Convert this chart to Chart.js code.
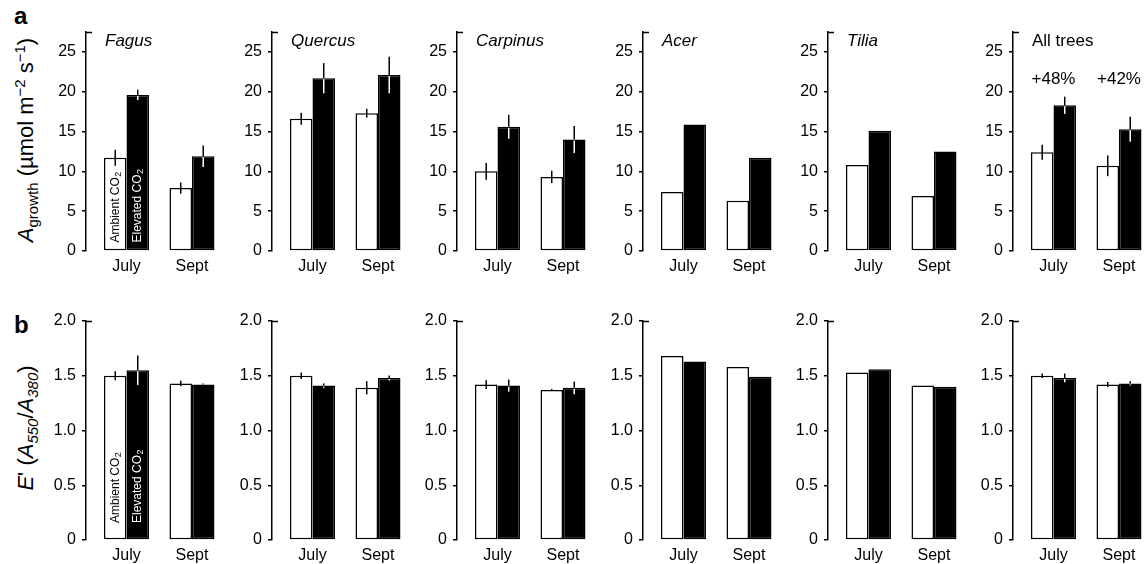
<!doctype html>
<html>
<head>
<meta charset="utf-8">
<title>Agrowth and E' by tree species</title>
<script src="https://cdn.jsdelivr.net/npm/chart.js@4.4.0/dist/chart.umd.min.js"></script>
<style>
body { margin: 0; background: #fff; overflow: hidden; font-family: "Liberation Sans", Arial, sans-serif; }
#wrap { position: relative; width: 1148px; height: 564px; }
canvas { position: absolute; }
.ytitle { position: absolute; white-space: nowrap; font-size: 22px; line-height: 1; transform: translate(-50%, -50%) rotate(-90deg); }
.ytitle sub, .ytitle sup { font-size: 15px; line-height: 0; }
.letter { position: absolute; font-weight: bold; font-size: 24px; line-height: 1; }
</style>
</head>
<body>
<div id="wrap">
  <div class="letter" style="left:14px; top:4px;">a</div>
  <div class="letter" style="left:14px; top:313px;">b</div>
  <div class="ytitle" style="left:26px; top:140px;"><i>A</i><sub>growth</sub> (µmol m<sup>−2</sup> s<sup>−1</sup>)</div>
  <div class="ytitle" style="left:26px; top:428px;"><i>E</i>' (<i>A</i><sub><i>550</i></sub>/<i>A</i><sub><i>380</i></sub>)</div>
</div>
<script>
var months = ['July', 'Sept'];
var species = ['Fagus', 'Quercus', 'Carpinus', 'Acer', 'Tilia', 'All trees'];
var increase = ['+48%', '+42%']; // all trees, elevated vs ambient

// A growth, one pair [July, Sept] per species
var growthAmbient  = [[11.7, 7.9], [16.6, 17.3], [10.0, 9.3], [7.4, 6.3], [10.8, 6.9], [12.4, 10.7]];
var growthElevated = [[19.6, 11.9], [21.7, 22.1], [15.6, 14.0], [15.9, 11.7], [15.1, 12.5], [18.3, 15.3]];
var growthAmbientErr  = [[1.0, 0.7], [0.75, 0.55], [1.05, 0.78], [0, 0], [0, 0], [0.95, 1.3]];
var growthElevatedErr = [[0.65, 1.35], [1.9, 2.3], [1.5, 1.7], [0, 0], [0, 0], [1.08, 1.57]];

// E' (A550/A380)
var eAmbient  = [[1.50, 1.43], [1.50, 1.39], [1.42, 1.37], [1.68, 1.58], [1.53, 1.41], [1.50, 1.42]];
var eElevated = [[1.55, 1.42], [1.41, 1.48], [1.41, 1.39], [1.63, 1.49], [1.56, 1.40], [1.48, 1.43]];
var eAmbientErr  = [[0.04, 0.025], [0.03, 0.06], [0.04, 0.01], [0, 0], [0, 0], [0.02, 0.023]];
var eElevatedErr = [[0.135, 0.01], [0.02, 0.023], [0.055, 0.058], [0, 0], [0, 0], [0.04, 0.02]];

var growthTicks = { max: 27.5, step: 5 };
var eTicks = { max: 2.0, step: 0.5 };

var axisX = [86, 271.7, 456.7, 642.7, 828.3, 1013.3];
var rowTop = [32.3, 320.5];
var AXIS_W = 44, PAD_TOP = 20, XAXIS_H = 25, AREA_H = 219.2, AREA_W = 131;

Chart.defaults.font.family = '"Liberation Sans", Arial, sans-serif';
Chart.defaults.color = '#000';

var errorBars = {
  id: 'errorBars',
  afterDatasetsDraw: function(chart) {
    var ctx = chart.ctx, ys = chart.scales.y;
    ctx.save();
    ctx.lineWidth = 1.5;
    chart.data.datasets.forEach(function(ds, di) {
      chart.getDatasetMeta(di).data.forEach(function(bar, i) {
        var e = ds.errors[i];
        if (!e) return;
        var v = ds.data[i].y;
        var top = ys.getPixelForValue(v + e), bot = ys.getPixelForValue(v - e);
        var x = bar.x;
        ctx.strokeStyle = '#000';
        ctx.beginPath(); ctx.moveTo(x, top); ctx.lineTo(x, di === 1 ? bar.y : bot); ctx.stroke();
        if (di === 1) {
          ctx.strokeStyle = '#fff';
          ctx.beginPath(); ctx.moveTo(x, bar.y + 1); ctx.lineTo(x, bot); ctx.stroke();
        }
      });
    });
    ctx.restore();
  }
};

var panelText = {
  id: 'panelText',
  afterDraw: function(chart) {
    var o = chart.options.plugins.panelText, a = chart.chartArea, ctx = chart.ctx;
    ctx.save();
    // small cap at the top of the y axis
    ctx.strokeStyle = '#000'; ctx.lineWidth = 1.5;
    ctx.beginPath(); ctx.moveTo(a.left, a.top + 0.5); ctx.lineTo(a.left + 6, a.top + 0.5); ctx.stroke();
    ctx.fillStyle = '#000';
    ctx.textBaseline = 'middle';
    if (o.title) {
      ctx.textAlign = 'left';
      ctx.font = (o.title === 'All trees' ? '' : 'italic ') + '17px "Liberation Sans", Arial, sans-serif';
      ctx.fillText(o.title, a.left + 19, a.top + 9);
    }
    if (o.increase) {
      ctx.textAlign = 'center';
      ctx.font = '17px "Liberation Sans", Arial, sans-serif';
      o.increase.forEach(function(t, i) {
        ctx.fillText(t, chart.scales.x.getPixelForValue(i), a.top + 47);
      });
    }
    if (o.barLabels) {
      var labels = ['Ambient CO', 'Elevated CO'];
      [0, 1].forEach(function(di) {
        var bar = chart.getDatasetMeta(di).data[0];
        ctx.save();
        ctx.translate(bar.x, a.bottom - o.barLabels);
        ctx.rotate(-Math.PI / 2);
        ctx.fillStyle = di === 0 ? '#000' : '#fff';
        ctx.textAlign = 'left';
        ctx.font = '12px "Liberation Sans", Arial, sans-serif';
        ctx.fillText(labels[di], 0, 0);
        var w = ctx.measureText(labels[di]).width;
        ctx.font = '9px "Liberation Sans", Arial, sans-serif';
        ctx.fillText('2', w + 0.5, 3);
        ctx.restore();
      });
    }
    ctx.restore();
  }
};

function makePanel(row, p, amb, elev, ambErr, elevErr, ticks) {
  var cv = document.createElement('canvas');
  var w = AXIS_W + AREA_W + 3, h = PAD_TOP + AREA_H + XAXIS_H;
  cv.width = w; cv.height = h;
  cv.style.left = (axisX[p] - AXIS_W) + 'px';
  cv.style.top = (rowTop[row] - PAD_TOP) + 'px';
  document.getElementById('wrap').appendChild(cv);

  function pts(vals) { return months.map(function(m, i) { return { x: i, y: vals[i] }; }); }

  new Chart(cv.getContext('2d'), {
    type: 'bar',
    data: {
      datasets: [
        { label: 'Ambient CO2', data: pts(amb), errors: ambErr, backgroundColor: '#fff', borderColor: '#000', borderWidth: 1.5, borderSkipped: false, barPercentage: 1, categoryPercentage: 0.687 },
        { label: 'Elevated CO2', data: pts(elev), errors: elevErr, backgroundColor: '#000', borderColor: '#000', borderWidth: 1.5, borderSkipped: false, barPercentage: 1, categoryPercentage: 0.687 }
      ]
    },
    options: {
      responsive: false,
      animation: false,
      devicePixelRatio: 1,
      layout: { padding: { top: PAD_TOP, left: 0, right: 3, bottom: 0 } },
      plugins: {
        legend: { display: false },
        tooltip: { enabled: false },
        panelText: {
          title: row === 0 ? species[p] : null,
          increase: (row === 0 && p === 5) ? increase : null,
          barLabels: p === 0 ? (row === 0 ? 8.5 : 17) : 0
        }
      },
      scales: {
        x: {
          type: 'linear', min: -0.618, max: 1.382, offset: false,
          border: { display: false },
          grid: { display: false, drawTicks: false },
          ticks: { padding: 6, font: { size: 16 }, callback: function(v) { return months[v]; } },
          afterBuildTicks: function(s) { s.ticks = months.map(function(m, i) { return { value: i }; }); },
          afterFit: function(s) { s.height = XAXIS_H; }
        },
        y: {
          min: 0, max: ticks.max,
          border: { display: true, color: '#000', width: 1.5 },
          grid: { display: true, drawOnChartArea: false, drawTicks: true, tickLength: 4, color: '#000', lineWidth: 1.5 },
          ticks: {
            stepSize: ticks.step, includeBounds: false, padding: 6, font: { size: 16 },
            callback: function(v) { return row === 1 ? (v === 0 ? '0' : v.toFixed(1)) : v; }
          },
          afterFit: function(s) { s.width = AXIS_W; }
        }
      }
    },
    plugins: [errorBars, panelText]
  });
}

for (var p = 0; p < species.length; p++) {
  makePanel(0, p, growthAmbient[p], growthElevated[p], growthAmbientErr[p], growthElevatedErr[p], growthTicks);
  makePanel(1, p, eAmbient[p], eElevated[p], eAmbientErr[p], eElevatedErr[p], eTicks);
}
</script>
</body>
</html>
